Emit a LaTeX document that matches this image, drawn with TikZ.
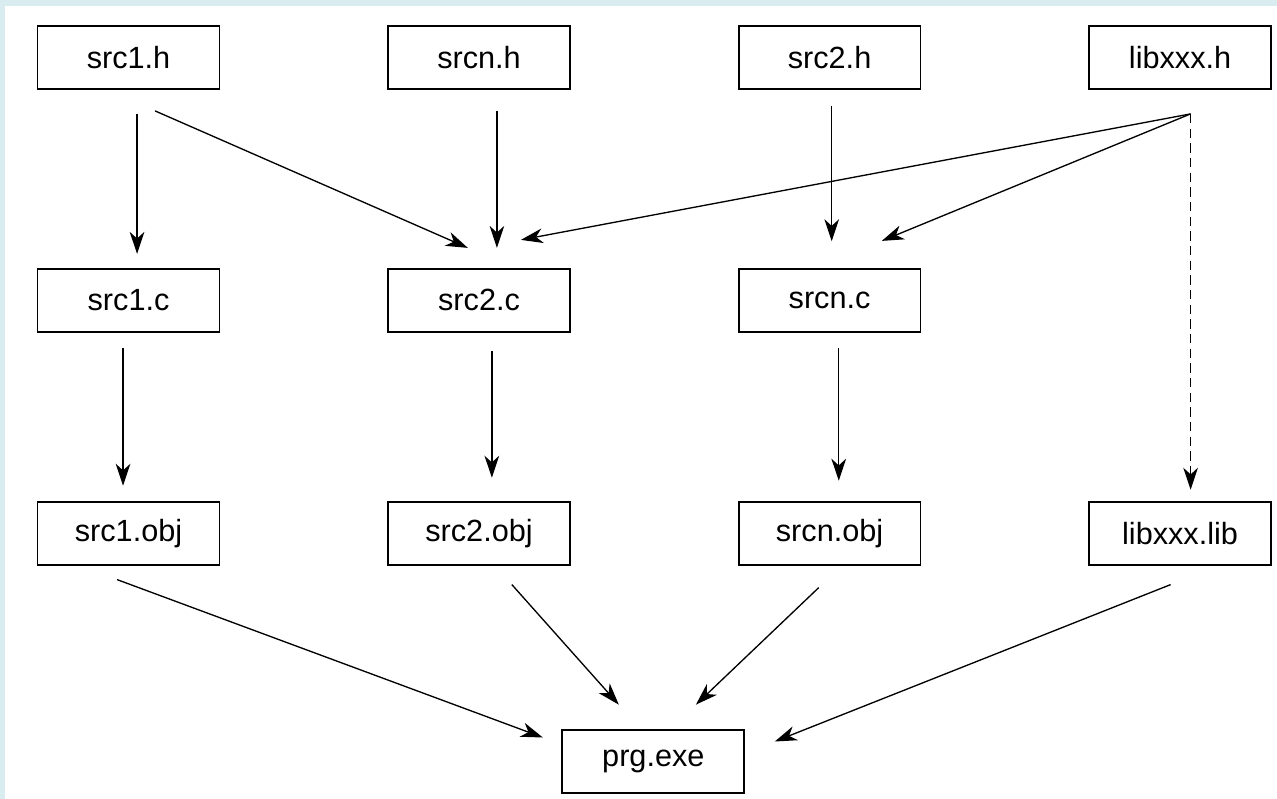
\documentclass[tikz,border=0pt]{standalone}
\usepackage{fontspec}
\setmainfont{Liberation Sans}
\usepackage{xcolor}
\usepackage{tikz}
\usetikzlibrary{arrows.meta,positioning}

\definecolor{frameblue}{HTML}{D9ECEF}

\begin{document}
\begin{tikzpicture}[
  node distance=126pt and 125pt,
  box/.style={draw, line width=1.4pt, align=center,
              font=\fontsize{23pt}{27pt}\selectfont,
              minimum width=136.5pt, minimum height=47.25pt, inner sep=3pt},
  link/.style={->, line width=1pt},
  >={Stealth[length=16.5pt, width=11pt, inset=5pt]}]
% frame and page
\fill[frameblue] (-96.4pt,43.1pt) rectangle (861.4pt,-556.1pt);
\fill[white] (-92.6pt,38.6pt) rectangle (861.4pt,-556.1pt);
% headers
\node[box] (h1) at (0,0) {src1.h};
\node[box, right=of h1] (hn) {srcn.h};
\node[box, right=of hn] (h2) {src2.h};
\node[box, right=of h2] (hl) {libxxx.h};
% sources
\node[box, below=133.5pt of h1] (c1) {src1.c};
\node[box, right=of c1] (c2) {src2.c};
\node[box, right=of c2] (cn) {srcn.c};
% objects
\node[box, below=of c1] (o1) {src1.obj};
\node[box, right=of o1] (o2) {src2.obj};
\node[box, right=of o2] (on) {srcn.obj};
\node[box, right=of on] (ol) {libxxx.lib};
% program
\node[box, below=122.5pt of o2, xshift=130.75pt] (prg) {prg.exe};
\coordinate (fan) at ([shift={(7.9pt,-18pt)}]hl.south);
% includes
\draw[link] ([shift={(6.4pt,-18pt)}]h1.south) -- ([shift={(6.4pt,10.5pt)}]c1.north);
\draw[link] ([shift={(19.9pt,-15.75pt)}]h1.south) -- ([shift={(-8.4pt,15pt)}]c2.north);
\draw[link] ([shift={(13.4pt,-15.75pt)}]hn.south) -- ([shift={(13.4pt,15pt)}]c2.north);
\draw[link] ([shift={(1.6pt,-12pt)}]h2.south) -- ([shift={(1.6pt,20pt)}]cn.north);
\draw[link] (fan) -- ([shift={(31.4pt,21pt)}]c2.north);
\draw[link] (fan) -- ([shift={(39.2pt,20.25pt)}]cn.north);
\draw[link, dash pattern=on 7pt off 4pt] (fan) -- ([shift={(7.9pt,8.25pt)}]ol.north);
% compile
\draw[link] ([shift={(-4.1pt,-11.25pt)}]c1.south) -- ([shift={(-4.1pt,11.25pt)}]o1.north);
\draw[link] ([shift={(9.6pt,-13.5pt)}]c2.south) -- ([shift={(9.6pt,17.25pt)}]o2.north);
\draw[link] ([shift={(6.9pt,-11.25pt)}]cn.south) -- ([shift={(6.9pt,15pt)}]on.north);
% link
\draw[link] ([shift={(-8.6pt,-10.5pt)}]o1.south) -- ([shift={(-13.9pt,17.9pt)}]prg.west);
\draw[link] ([shift={(24.6pt,-14.25pt)}]o2.south) -- ([shift={(-25.9pt,18.2pt)}]prg.north);
\draw[link] ([shift={(-8.1pt,-16.5pt)}]on.south) -- ([shift={(31.9pt,18.2pt)}]prg.north);
\draw[link] ([shift={(-7.1pt,-14.25pt)}]ol.south) -- ([shift={(22.1pt,14.9pt)}]prg.east);
\end{tikzpicture}
\end{document}
